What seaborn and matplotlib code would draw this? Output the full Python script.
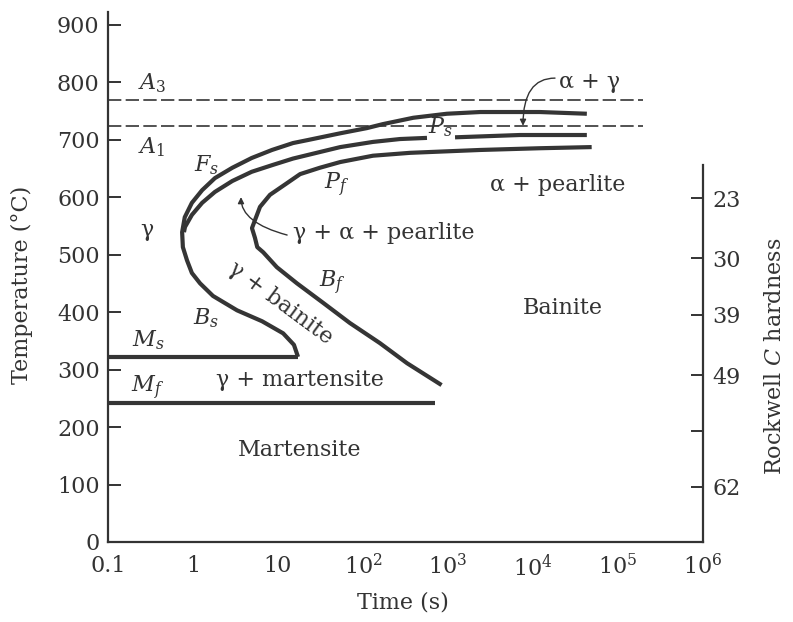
import numpy as np
import pandas as pd
import matplotlib
matplotlib.use("Agg")
import matplotlib.pyplot as plt
import seaborn as sns

# ---------------- data (time in s, temperature in °C) ----------------
# F_s curve (ferrite start) continuing through the nose into B_s
fs_time = [4.3e4, 1.2e4, 2.4e3, 970, 390, 172, 111, 54, 22, 15, 8.5, 4.9, 2.9, 1.81,
           1.28, 0.97, 0.80, 0.745, 0.76, 0.85, 0.97, 1.21, 1.72, 3.3, 6.5, 11.5,
           15.4, 17.2]
fs_temp = [745, 748, 748, 745, 738, 727, 720, 711, 699, 694, 682, 668, 651, 633,
           612, 590, 565, 539, 513, 490, 468, 450, 428, 403, 384, 363,
           343, 322]
# P_s curve (pearlite start), split around its label
ps_left_time = [0.783, 0.805, 0.97, 1.28, 1.81, 2.9, 4.9, 8.7, 15, 22, 54, 131, 272, 566]
ps_left_temp = [539, 548, 569, 590, 609, 628, 644, 656, 667, 673, 687, 696, 701, 703]
ps_right_time = [1210, 7000, 4.3e4]
ps_right_temp = [704, 708, 708]
# P_f / B_f curve (finish)
pfbf_time = [4.9e4, 1.2e4, 2.4e3, 357, 131, 54, 31, 18.2, 12.4, 8.05, 6.14, 5.36, 4.94,
             5.36, 5.7, 6.7, 9.7, 16.7, 34, 70, 158, 330, 840]
pfbf_temp = [687, 685, 682, 677, 672, 661, 651, 640, 623, 604, 583, 560, 546,
             529, 513, 504, 478, 450, 416, 381, 346, 311, 273]
# Martensite start / finish
ms_time = [0.1, 17.2]
ms_temp = [322, 322]
mf_time = [0.1, 703]
mf_temp = [242, 242]
# Equilibrium temperatures
a3_temp = 769
a1_temp = 723
a_line_time = [0.1, 1.97e5]

x_ticks = [0.1, 1, 10, 1e2, 1e3, 1e4, 1e5, 1e6]
x_tick_labels = ["0.1", "1", "10", r"$10^{2}$", r"$10^{3}$", r"$10^{4}$",
                 r"$10^{5}$", r"$10^{6}$"]
y_ticks = [0, 100, 200, 300, 400, 500, 600, 700, 800, 900]
hrc_ticks = [598, 494, 395, 290, 193, 96]
hrc_labels = ["23", "30", "39", "49", "", "62"]

# ---------------- style ----------------
sns.set_style("white")
plt.rcParams["font.family"] = ["DejaVu Serif"]
plt.rcParams["mathtext.fontset"] = "dejavuserif"
FS = 16
INK = "#333333"
CURVE = "#353535"

fig = plt.figure(figsize=(7.93, 6.22), dpi=100)
ax = fig.add_axes([108 / 793, 1 - 542 / 622, 595 / 793, 530 / 622])
ax.set_xscale("log")

lw = 3.0
def curve(t, T, **kw):
    d = pd.DataFrame({"t": t, "T": T})
    sns.lineplot(data=d, x="t", y="T", sort=False, estimator=None, ax=ax,
                 color=CURVE, lw=kw.pop("lw", lw), solid_capstyle="butt",
                 solid_joinstyle="round", **kw)

curve(fs_time, fs_temp)
curve(ps_left_time, ps_left_temp)
curve(ps_right_time, ps_right_temp)
curve(pfbf_time, pfbf_temp)
curve(ms_time, ms_temp)
curve(mf_time, mf_temp)
for temp in (a3_temp, a1_temp):
    curve(a_line_time, [temp, temp], lw=1.2, linestyle=(0, (8, 2.6)))

ax.set_xlim(0.1, 1e6)
ax.set_ylim(0, 922)
ax.set_xticks(x_ticks)
ax.set_xticklabels(x_tick_labels)
ax.xaxis.set_minor_locator(matplotlib.ticker.NullLocator())
ax.set_yticks(y_ticks)
ax.tick_params(axis="both", direction="in", length=9, width=1.4, colors=INK,
               labelsize=FS, labelcolor=INK)
ax.tick_params(axis="x", pad=9)
ax.tick_params(axis="y", pad=6)
ax.set_xlabel("Time (s)", fontsize=FS, color=INK)
ax.set_ylabel("Temperature (°C)", fontsize=FS, color=INK)
ax.xaxis.set_label_coords(0.496, -0.115)
ax.yaxis.set_label_coords(-0.1445, 0.485)
ax.yaxis.label.set_verticalalignment("center")
ax.xaxis.label.set_verticalalignment("center")
for s in ("top", "right"):
    ax.spines[s].set_visible(False)
for s in ("left", "bottom"):
    ax.spines[s].set_color(INK)
    ax.spines[s].set_linewidth(1.6)

# Rockwell hardness axis
ax2 = ax.twinx()
ax2.set_ylim(ax.get_ylim())
ax2.set_yticks(hrc_ticks)
ax2.set_yticklabels(hrc_labels)
ax2.tick_params(axis="y", direction="in", length=9, width=1.4, colors=INK,
                labelsize=FS, labelcolor=INK, pad=7)
for s in ("top", "left", "bottom"):
    ax2.spines[s].set_visible(False)
ax2.spines["right"].set_bounds(0, 656)
ax2.spines["right"].set_color(INK)
ax2.spines["right"].set_linewidth(1.6)
ax2.set_ylabel("Rockwell $C$ hardness", fontsize=FS, color=INK)
ax2.yaxis.set_label_coords(1.121, 0.351)
ax2.yaxis.label.set_verticalalignment("center")
ax2.yaxis.label.set_horizontalalignment("center")

# ---------------- labels ----------------
def lab(x, y, s, **kw):
    ax.text(x, y, s, fontsize=kw.pop("fontsize", FS), color=INK, ha=kw.pop("ha", "center"),
            va=kw.pop("va", "center"), **kw)

lab(0.33, 798, r"$A_3$")
lab(0.33, 687, r"$A_1$")
lab(1.46, 656, r"$F_s$")
lab(805, 722, r"$P_s$")
lab(49.4, 621, r"$P_f$")
lab(0.288, 543, "γ")
lab(15.0, 537, "γ + α + pearlite", ha="left")
lab(43.1, 450, r"$B_f$")
lab(1.42, 390, r"$B_s$")
lab(0.296, 351, r"$M_s$")
lab(0.296, 268, r"$M_f$")
lab(18.2, 282, "γ + martensite")
lab(18.2, 160, "Martensite")
lab(22500, 407, "Bainite")
lab(19700, 621, "α + pearlite")
lab(46900, 800, "α + γ")
lab(10.8, 416, "γ + bainite", rotation=-36.5, rotation_mode="anchor")

ax.annotate("", xy=(7630, 724), xytext=(18150, 807),
            arrowprops=dict(arrowstyle="-|>", color=INK, lw=1.0, mutation_scale=9,
                            shrinkA=0, shrinkB=0,
                            connectionstyle="angle3,angleA=0,angleB=90"))
ax.annotate("", xy=(3.67, 600), xytext=(12.8, 534),
            arrowprops=dict(arrowstyle="-|>", color=INK, lw=1.0, mutation_scale=9,
                            shrinkA=0, shrinkB=0,
                            connectionstyle="angle3,angleA=-15,angleB=90"))

fig.savefig("out.png", dpi=100)
